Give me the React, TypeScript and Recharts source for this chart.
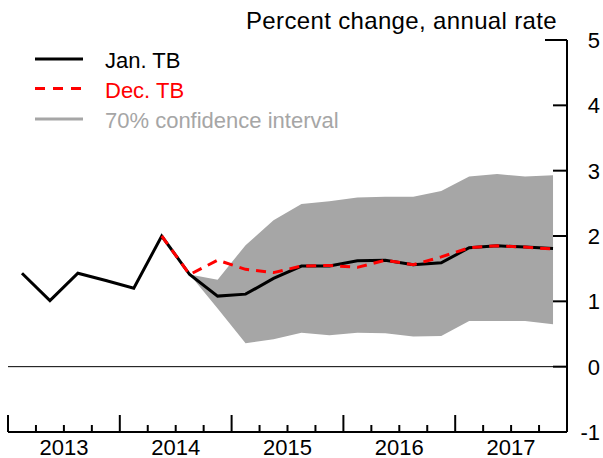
import { ComposedChart, Area, Line, XAxis, YAxis, ReferenceLine } from 'recharts';

// quarters 2013Q1 .. 2017Q4
const QUARTERS = [
  '2013Q1', '2013Q2', '2013Q3', '2013Q4',
  '2014Q1', '2014Q2', '2014Q3', '2014Q4',
  '2015Q1', '2015Q2', '2015Q3', '2015Q4',
  '2016Q1', '2016Q2', '2016Q3', '2016Q4',
  '2017Q1', '2017Q2', '2017Q3', '2017Q4',
];
const YEARS = ['2013', '2014', '2015', '2016', '2017'];

const JAN_TB = [1.43, 1.01, 1.43, 1.32, 1.2, 2.0, 1.41, 1.08, 1.11, 1.35, 1.54, 1.54, 1.62, 1.63, 1.56, 1.59, 1.82, 1.85, 1.83, 1.81];
const DEC_TB = [null, null, null, null, null, 2.0, 1.41, 1.63, 1.49, 1.44, 1.54, 1.55, 1.52, 1.63, 1.56, 1.68, 1.82, 1.85, 1.83, 1.8];
const CI_LOW = [null, null, null, null, null, null, 1.41, 0.89, 0.36, 0.42, 0.52, 0.48, 0.52, 0.51, 0.46, 0.47, 0.7, 0.7, 0.7, 0.65];
const CI_HIGH = [null, null, null, null, null, null, 1.41, 1.33, 1.86, 2.24, 2.49, 2.53, 2.59, 2.6, 2.6, 2.69, 2.91, 2.95, 2.91, 2.93];

const Y_TICKS = [-1, 0, 1, 2, 3, 4, 5];
// quarter boundaries
const X_TICKS = Array.from({ length: QUARTERS.length + 1 }, (_, k) => k - 0.5);

const FONT = '"Liberation Sans", Arial, sans-serif';
const GRAY = '#a6a6a6';

const data = QUARTERS.map((q, i) => ({
  i,
  q,
  jan: JAN_TB[i],
  dec: DEC_TB[i],
  band: CI_LOW[i] == null ? null : [CI_LOW[i], CI_HIGH[i]],
}));

function QuarterTick({ x, y, payload }: any) {
  const v = payload.value;
  const isYear = (v + 0.5) % 4 === 0;
  const yearIdx = (v - 1.5) / 4;
  const label = Number.isInteger(yearIdx) ? YEARS[yearIdx] : null;
  return (
    <g>
      <line x1={x} x2={x} y1={y} y2={y - (isYear ? 17 : 7)} stroke="#000" strokeWidth={2} />
      {label && (
        <text x={x} y={y + 22.5} textAnchor="middle" fontSize={22} fontFamily={FONT} fill="#000">
          {label}
        </text>
      )}
    </g>
  );
}

function LeftTick({ x, y }: any) {
  return <line x1={x} x2={x + 16} y1={y} y2={y} stroke="#000" strokeWidth={2} />;
}

function RightTick({ x, y, payload }: any) {
  const len = payload.value === 5 ? 22 : 14;
  return (
    <g>
      <line x1={x - len} x2={x} y1={y} y2={y} stroke="#000" strokeWidth={2} />
      <text x={x + 33} y={y + 8} textAnchor="end" fontSize={22} fontFamily={FONT} fill="#000">
        {payload.value}
      </text>
    </g>
  );
}

export default function App() {
  return (
    <div style={{ position: 'absolute', left: 0, top: 0, width: 603, height: 458, background: '#fff' }}>
      <ComposedChart width={603} height={458} data={data} margin={{ top: 40, right: 0, bottom: 0, left: 8 }}>
        <XAxis
          dataKey="i"
          type="number"
          domain={[-0.5, 19.5]}
          ticks={X_TICKS}
          interval={0}
          height={26}
          tickSize={0}
          tickMargin={0}
          tickLine={false}
          axisLine={{ stroke: '#000', strokeWidth: 2 }}
          tick={<QuarterTick />}
        />
        <YAxis
          yAxisId="left"
          orientation="left"
          width={0}
          domain={[-1, 5]}
          ticks={Y_TICKS}
          interval={0}
          tickSize={0}
          tickMargin={0}
          tickLine={false}
          axisLine={{ stroke: '#000', strokeWidth: 2 }}
          tick={<LeftTick />}
        />
        <YAxis
          yAxisId="right"
          orientation="right"
          width={36}
          domain={[-1, 5]}
          ticks={Y_TICKS}
          interval={0}
          tickSize={0}
          tickMargin={0}
          tickLine={false}
          axisLine={{ stroke: '#000', strokeWidth: 2 }}
          tick={<RightTick />}
        />
        <ReferenceLine yAxisId="right" y={0} stroke="#000" strokeWidth={1} />
        <Area
          yAxisId="right"
          type="linear"
          dataKey="band"
          stroke="none"
          fill={GRAY}
          fillOpacity={1}
          isAnimationActive={false}
        />
        <Line yAxisId="right" type="linear" dataKey="jan" stroke="#000" strokeWidth={3} dot={false} isAnimationActive={false} />
        <Line
          yAxisId="right"
          type="linear"
          dataKey="dec"
          stroke="#ff0000"
          strokeWidth={3}
          strokeDasharray="10 7"
          dot={false}
          isAnimationActive={false}
        />
      </ComposedChart>

      {/* title and legend */}
      <svg width={603} height={458} style={{ position: 'absolute', left: 0, top: 0, pointerEvents: 'none' }}>
        <text x={557} y={29} textAnchor="end" fontSize={24} letterSpacing={0.35} fontFamily={FONT} fill="#000">
          Percent change, annual rate
        </text>
        <line x1={35} x2={83} y1={59} y2={59} stroke="#000" strokeWidth={3} />
        <text x={105} y={68} fontSize={22} fontFamily={FONT} fill="#000">Jan. TB</text>
        <line x1={35} x2={83} y1={88.5} y2={88.5} stroke="#ff0000" strokeWidth={3} strokeDasharray="10 8" />
        <text x={105} y={98} fontSize={22} fontFamily={FONT} fill="#ff0000">Dec. TB</text>
        <line x1={35} x2={83} y1={119} y2={119} stroke={GRAY} strokeWidth={3} />
        <text x={105} y={128} fontSize={22} fontFamily={FONT} fill={GRAY}>70% confidence interval</text>
      </svg>
    </div>
  );
}
